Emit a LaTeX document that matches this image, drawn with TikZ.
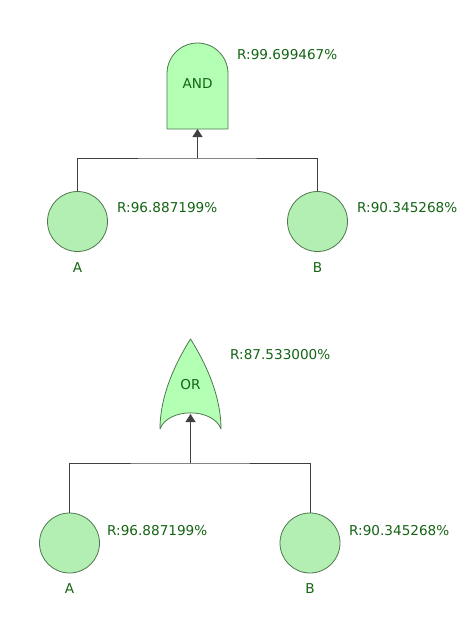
\documentclass[tikz,border=0pt]{standalone}
\usepackage{fontspec}
\setmainfont{DejaVu Sans}
\usetikzlibrary{arrows.meta}
\definecolor{gatefill}{RGB}{179,255,179}
\definecolor{evfill}{RGB}{179,238,179}
\definecolor{edge}{RGB}{80,120,80}
\definecolor{txt}{RGB}{20,100,20}
\definecolor{wire}{RGB}{64,64,64}
\tikzset{
  lbl/.style={text=txt,font=\fontsize{13.6}{15}\selectfont,inner sep=0pt},
  rlbl/.style={lbl,anchor=west},
  event/.style={circle,draw=edge,fill=evfill,line width=0.8pt,minimum size=60pt,inner sep=0pt},
  gate/.style={draw=edge,fill=gatefill,line width=0.8pt,line join=round},
  wireline/.style={draw=wire,line width=0.9pt},
  arr/.style={wireline,-{Triangle[width=10pt,length=8pt]}}
}
\begin{document}
\begin{tikzpicture}[x=1pt,y=-1pt]
\useasboundingbox (0,0) rectangle (474,630);
% ---------- AND tree ----------
\path[gate] (167,129) -- (167,73.5) arc[start angle=180,end angle=360,radius=30.5] -- (228,129) -- cycle;
\node[lbl] (andtxt) at (197.5,84) {AND};
\coordinate (andin) at (197.5,129);
\node[rlbl] (andr) at (237,55) {R:99.699467\%};
\node[event] (a1) at (77.5,221.5) {};
\node[event] (b1) at (317.5,221.5) {};
\node[lbl] (a1l) at (77.5,267.5) {A};
\node[lbl] (b1l) at (317.5,267.5) {B};
\node[rlbl] (a1r) at (117,208) {R:96.887199\%};
\node[rlbl] (b1r) at (357,208) {R:90.345268\%};
\coordinate (j1) at (197.5,158);
\draw[wireline] (a1.north) |- (j1) -| (b1.north);
\draw[arr] (j1) -- (andin);
% ---------- OR tree ----------
\path[gate] (190.5,339) .. controls (176,362) and (160,395) .. (160,429)
  .. controls (168,407.5) and (213,407.5) .. (221,429)
  .. controls (221,395) and (205,362) .. (190.5,339) -- cycle;
\node[lbl] (ortxt) at (190.5,385) {OR};
\coordinate (orin) at (190.5,414);
\node[rlbl] (orr) at (230,355) {R:87.533000\%};
\node[event] (a2) at (69.5,543) {};
\node[event] (b2) at (310,543) {};
\node[lbl] (a2l) at (69.5,588.5) {A};
\node[lbl] (b2l) at (310,588.5) {B};
\node[rlbl] (a2r) at (107,530.5) {R:96.887199\%};
\node[rlbl] (b2r) at (349,530.5) {R:90.345268\%};
\coordinate (j2) at (190.5,463);
\draw[wireline] (a2.north) |- (j2) -| (b2.north);
\draw[arr] (j2) -- (orin);
\end{tikzpicture}
\end{document}
